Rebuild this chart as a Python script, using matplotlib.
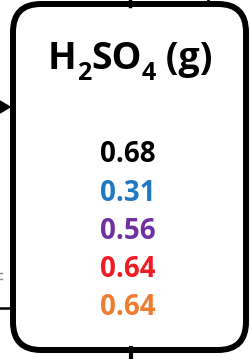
import matplotlib.pyplot as plt
from matplotlib.patches import FancyBboxPatch, Polygon

# box content
title_parts = [('H', False), ('2', True), ('SO', False), ('4', True), (' (g)', False)]
values = ['0.68', '0.31', '0.56', '0.64', '0.64']
colors = ['#000000', '#1f78c1', '#7030a0', '#ee1c25', '#ed7d31']

plt.rcParams['font.family'] = ['Open Sans', 'DejaVu Sans']

f = plt.figure(figsize=(2.5, 3.59), dpi=100)
ax = f.add_axes([0, 0, 1, 1])
ax.set_xlim(0, 250)
ax.set_ylim(359, 0)
ax.axis('off')

# connector lines around the box (partly cut off)
ax.plot([130, 130], [0, 6], color='black', lw=2.5)
ax.plot([208, 208], [0, 4], color='black', lw=2)
ax.plot([131, 131], [348, 359], color='black', lw=3)
ax.plot([0, 13], [308, 308], color='black', lw=1.8)
ax.add_patch(Polygon([[0, 101], [10, 107], [0, 113]], closed=True, color='black'))
ax.plot([0, 2], [273, 273], color='#888888', lw=1)
ax.plot([0, 2], [279, 279], color='#888888', lw=1)

# rounded box
box = FancyBboxPatch((13, 4), 233, 346, boxstyle='round,pad=0,rounding_size=28',
                     facecolor='white', edgecolor='black', lw=4.3)
ax.add_patch(box)

# title drawn piece by piece so the subscripts sit low like the original
f.canvas.draw()
r = f.canvas.get_renderer()
pieces = []
for txt, sub in title_parts:
    t = ax.text(0, 0, txt, ha='left', va='baseline', fontsize=18 if sub else 27,
                fontweight='bold', color='black')
    w = t.get_window_extent(r).width
    pieces.append((t, w, sub))
total = sum(w for _, w, _ in pieces)
x = 130 - total / 2
for t, w, sub in pieces:
    t.set_x(x)
    t.set_y(80 if sub else 69)
    x += w

y0 = 155
step = 38.2
for i, (v, c) in enumerate(zip(values, colors)):
    ax.text(128, y0 + i * step, v, ha='center', va='center', fontsize=20,
            fontweight='bold', color=c)

f.savefig('out.png', dpi=100)
